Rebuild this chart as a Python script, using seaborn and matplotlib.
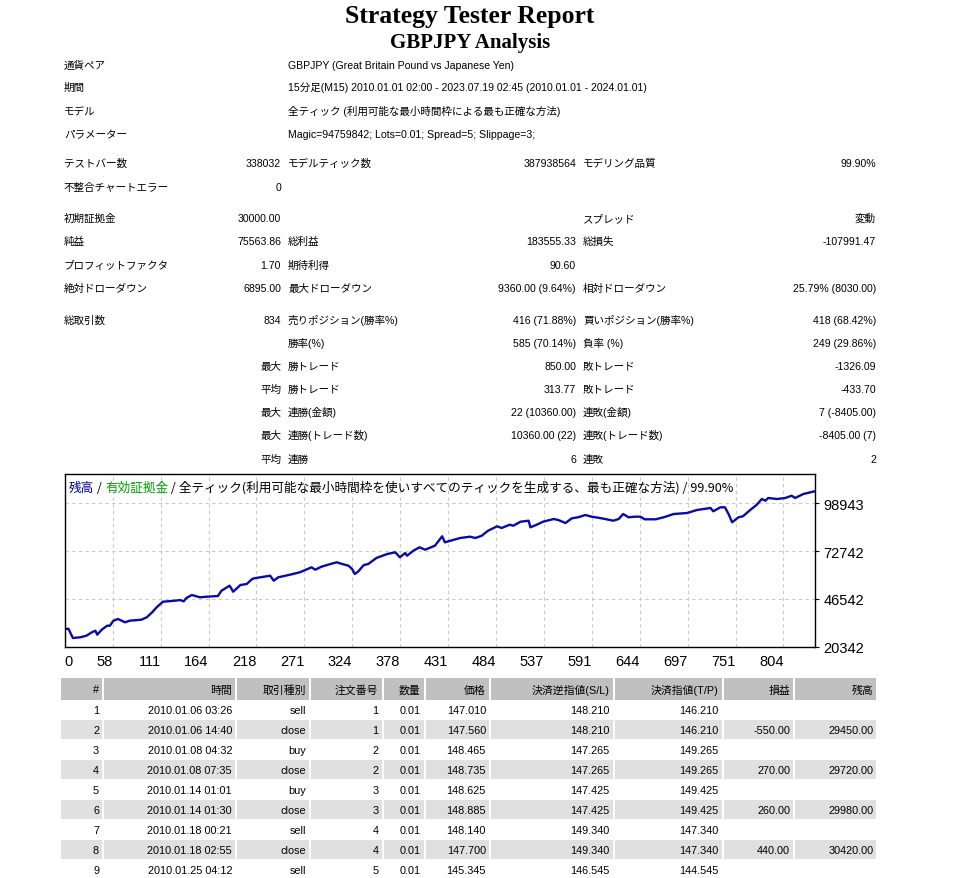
import matplotlib
matplotlib.use("Agg")
import matplotlib.pyplot as plt
from matplotlib.patches import Rectangle
import seaborn as sns

W, H = 963, 879  # figure size in pixels

# equity curve (balance)
trade_no = [0, 4, 9, 17, 24, 30, 34, 36, 41, 47, 50, 54, 59, 67, 72, 85, 91, 97, 102, 109,
            122, 128, 132, 135, 141, 150, 158, 170, 174, 183, 187, 195, 202, 208, 211, 217,
            228, 232, 237, 250, 261, 274, 278, 285, 295, 302, 308, 315, 319, 322, 326, 332,
            337, 346, 358, 367, 372, 378, 380, 387, 394, 400, 411, 419, 422, 426, 431, 439,
            450, 456, 463, 470, 480, 485, 494, 498, 506, 515, 517, 524, 531, 543, 548, 556,
            563, 570, 578, 585, 594, 600, 609, 615, 620, 626, 633, 639, 644, 656, 665, 676,
            691, 702, 717, 720, 728, 733, 737, 741, 748, 753, 761, 768, 774, 778, 781, 791,
            800, 807, 811, 820, 833]
balance = [30000, 30200, 25100, 25500, 26370, 28230, 29110, 26920, 29660, 31850, 31850, 34590,
           35520, 33710, 34590, 35140, 36450, 39200, 41940, 45000, 45550, 45900, 45200, 47030,
           48680, 47420, 47750, 48130, 51040, 53780, 50490, 54160, 54700, 57450, 57900, 58380,
           59250, 56520, 58380, 59800, 61120, 63860, 62540, 64190, 65670, 66600, 65670, 64740,
           62930, 60190, 61670, 65120, 65670, 68960, 71150, 72080, 69340, 71700, 70220, 72960,
           74820, 73500, 75700, 80850, 77560, 78110, 78820, 79920, 80630, 79920, 81180, 83920,
           86330, 85400, 87210, 86660, 88850, 89400, 85780, 87210, 88850, 90330, 89770, 88140,
           90720, 91270, 92530, 91600, 90880, 90330, 89400, 90330, 93060, 91270, 91600, 91600,
           90170, 90170, 91270, 93060, 93620, 95270, 96370, 94560, 96750, 96750, 93060, 88540,
           91270, 91820, 95270, 98000, 101300, 100360, 101850, 101300, 101850, 103100, 101850,
           104030, 105564]

x_tick_labels = ["0", "58", "111", "164", "218", "271", "324", "378", "431", "484",
                 "537", "591", "644", "697", "751", "804"]
y_ticks = [20342, 46542, 72742, 98943]

# report header
info_labels = ["通貨ペア", "期間", "モデル", "パラメーター"]
info_values = ["GBPJPY (Great Britain Pound vs Japanese Yen)",
               "15分足(M15) 2010.01.01 02:00 - 2023.07.19 02:45 (2010.01.01 - 2024.01.01)",
               "全ティック (利用可能な最小時間枠による最も正確な方法)",
               "Magic=94759842; Lots=0.01; Spread=5; Slippage=3;"]

# statistics block, three label/value column pairs
col1_labels = ["テストバー数", "不整合チャートエラー", "初期証拠金", "純益", "プロフィットファクタ",
               "絶対ドローダウン", "総取引数", "", "", "", "", "", ""]
col1_values = ["338032", "0", "30000.00", "75563.86", "1.70", "6895.00", "834", "",
               "最大", "平均", "最大", "最大", "平均"]
col2_labels = ["モデルティック数", "", "", "総利益", "期待利得", "最大ドローダウン",
               "売りポジション(勝率%)", "勝率(%)", "勝トレード", "勝トレード", "連勝(金額)",
               "連勝(トレード数)", "連勝"]
col2_values = ["387938564", "", "", "183555.33", "90.60", "9360.00 (9.64%)", "416 (71.88%)",
               "585 (70.14%)", "850.00", "313.77", "22 (10360.00)", "10360.00 (22)", "6"]
col3_labels = ["モデリング品質", "", "スプレッド", "総損失", "", "相対ドローダウン",
               "買いポジション(勝率%)", "負率 (%)", "敗トレード", "敗トレード", "連敗(金額)",
               "連敗(トレード数)", "連敗"]
col3_values = ["99.90%", "", "変動", "-107991.47", "", "25.79% (8030.00)", "418 (68.42%)",
               "249 (29.86%)", "-1326.09", "-433.70", "7 (-8405.00)", "-8405.00 (7)", "2"]

# order table
table_header = ["#", "時間", "取引種別", "注文番号", "数量", "価格", "決済逆指値(S/L)",
                "決済指値(T/P)", "損益", "残高"]
t_no = ["1", "2", "3", "4", "5", "6", "7", "8", "9"]
t_time = ["2010.01.06 03:26", "2010.01.06 14:40", "2010.01.08 04:32", "2010.01.08 07:35",
          "2010.01.14 01:01", "2010.01.14 01:30", "2010.01.18 00:21", "2010.01.18 02:55",
          "2010.01.25 04:12"]
t_type = ["sell", "close", "buy", "close", "buy", "close", "sell", "close", "sell"]
t_order = ["1", "1", "2", "2", "3", "3", "4", "4", "5"]
t_lots = ["0.01"] * 9
t_price = ["147.010", "147.560", "148.465", "148.735", "148.625", "148.885", "148.140",
           "147.700", "145.345"]
t_sl = ["148.210", "148.210", "147.265", "147.265", "147.425", "147.425", "149.340",
        "149.340", "146.545"]
t_tp = ["146.210", "146.210", "149.265", "149.265", "149.425", "149.425", "147.340",
        "147.340", "144.545"]
t_profit = ["", "-550.00", "", "270.00", "", "260.00", "", "440.00", ""]
t_bal = ["", "29450.00", "", "29720.00", "", "29980.00", "", "30420.00", ""]

sns.set_style("white")
FAM = ["Liberation Sans", "Noto Sans CJK JP", "DejaVu Sans"]
JP = ["Noto Sans CJK JP", "DejaVu Sans"]
plt.rcParams["font.family"] = FAM
plt.rcParams["text.color"] = "black"

fig = plt.figure(figsize=(W / 100, H / 100), dpi=100)
page = fig.add_axes([0, 0, 1, 1], zorder=0)
page.set_xlim(0, W)
page.set_ylim(H, 0)
page.axis("off")


def put(x, y, s, ha="left", size=7.6, **kw):
    if s:
        page.text(x, y, s, ha=ha, va="center", fontsize=size, color="black", **kw)


# titles
page.text(470, 23, "Strategy Tester Report", ha="center", va="baseline", fontsize=18.5,
          family="Liberation Serif", weight="bold", color="black")
page.text(470, 48, "GBPJPY Analysis", ha="center", va="baseline", fontsize=15,
          family="Liberation Serif", weight="bold", color="black")

info_y = [66, 88, 111, 135]
for y, lab, val in zip(info_y, info_labels, info_values):
    put(64, y, lab)
    put(288, y, val)

stat_y = [164, 188, 219, 242, 266, 289, 321, 344, 367, 390, 413, 436, 460]
for i, y in enumerate(stat_y):
    put(64, y, col1_labels[i])
    put(281, y, col1_values[i], ha="right")
    put(288, y, col2_labels[i])
    put(576, y, col2_values[i], ha="right")
    put(583, y, col3_labels[i])
    put(876, y, col3_values[i], ha="right")

# balance chart
ax = fig.add_axes([64.8 / W, 1 - 647.7 / H, (815 - 64.8) / W, (647.7 - 475) / H], zorder=2)
ax.set_facecolor("white")
sns.lineplot(x=trade_no, y=balance, ax=ax, color="#0A0AA8", linewidth=1.7)
ax.set_xlim(0, 833)
ax.set_ylim(20342, 115000)
ax.set_xticks([i * 53.2 for i in range(len(x_tick_labels))])
ax.set_xticklabels(x_tick_labels)
for i, lab in enumerate(ax.get_xticklabels()):
    lab.set_ha("left" if i == 0 else "right")
ax.set_yticks(y_ticks)
ax.set_yticklabels([str(v) for v in y_ticks])
ax.yaxis.tick_right()
ax.tick_params(axis="both", length=3, width=0.8, color="black", labelsize=10.5,
               labelcolor="black", direction="out")
ax.tick_params(axis="x", pad=2)
ax.tick_params(axis="y", pad=3)
ax.grid(True, color="#c8c8c8", linestyle=(0, (3, 3)), linewidth=0.8)
for sp in ax.spines.values():
    sp.set_visible(True)
    sp.set_color("black")
    sp.set_linewidth(1.0)
ax.set_xlabel("")
ax.set_ylabel("")

# coloured chart caption
parts = [("残高", "#000090"), (" / ", "black"), ("有効証拠金", "#00A000"),
         (" / 全ティック(利用可能な最小時間枠を使いすべてのティックを生成する、最も正確な方法) / 99.90%", "black")]
prev = ax.text((69 - 64.8) / (815 - 64.8), (647.7 - 488) / (647.7 - 475), parts[0][0],
               transform=ax.transAxes, ha="left", va="center", fontsize=9.1,
               color=parts[0][1], family=JP)
for s, c in parts[1:]:
    prev = ax.annotate(s, xy=(1, 0), xycoords=prev, ha="left", va="bottom",
                       fontsize=9.1, color=c, family=JP)

# order table
edges = [61, 104, 237, 311, 383.5, 425.5, 491, 614.5, 723.5, 795, 878.3]
columns = [t_no, t_time, t_type, t_order, t_lots, t_price, t_sl, t_tp, t_profit, t_bal]
head_top, head_h, row_h = 679, 22, 20
for j in range(len(table_header)):
    x0, x1 = edges[j], edges[j + 1] - 2
    page.add_patch(Rectangle((x0, head_top), x1 - x0, head_h, color="#c0c0c0", lw=0))
    put(x1 - 3, head_top + head_h / 2 + 0.5, table_header[j], ha="right", size=7.8)
for i in range(len(t_no)):
    top = head_top + head_h + i * row_h
    for j, col in enumerate(columns):
        x0, x1 = edges[j], edges[j + 1] - 2
        if i % 2 == 1:
            page.add_patch(Rectangle((x0, top), x1 - x0, row_h - 1, color="#e0e0e0", lw=0))
        put(x1 - 3, top + row_h / 2, col[i], ha="right", size=7.8)

fig.savefig("out.png", dpi=100)
